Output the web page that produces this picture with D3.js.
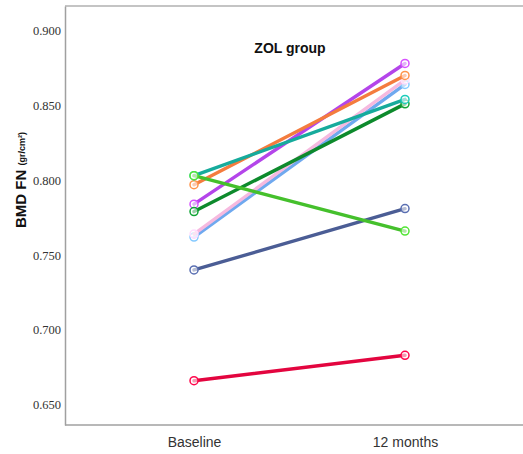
<!DOCTYPE html>
<html>
<head>
<meta charset="utf-8">
<script src="https://cdn.jsdelivr.net/npm/d3@7"></script>
<style>
  body { margin: 0; background: #fff; }
  .axis path, .axis line { stroke: #a0a0a0; }
  .axis--y text { font-family: "Liberation Serif", "DejaVu Serif", "Times New Roman", serif; font-size: 12.5px; }
</style>
</head>
<body>
<div id="svgcontainer"></div>
<script>
// data
var timepoints = ["Baseline", "12 months"];
var subjectColors = ["#e3053f", "#4b5d95", "#6fa9ef", "#f6b9df", "#b445ea", "#f47c3e", "#0d8a2c", "#16ab9c", "#45c02c"];
var baseline =      [0.666, 0.740, 0.762, 0.764, 0.784, 0.797, 0.779, 0.803, 0.803];
var months12 =      [0.683, 0.781, 0.864, 0.867, 0.878, 0.870, 0.851, 0.854, 0.766];
var yTicks = [0.650, 0.700, 0.750, 0.800, 0.850, 0.900];

var margin = {top: 6, right: 0, bottom: 29, left: 65},
    width = 523 - margin.left - margin.right,
    height = 454 - margin.top - margin.bottom,
    svg = d3.select("div#svgcontainer")
            .append("svg")
            .attr("width", 523)
            .attr("height", 454),
    g = svg.append("g")
           .attr("transform", "translate(" + margin.left + "," + margin.top + ")");

var x = d3.scalePoint()
    .domain(timepoints)
    .range([23.5, 445.5])
    .padding(0.5);

var y = d3.scaleLinear()
    .domain([0.6364, 0.9164])
    .range([height, 0]);

var line = d3.line()
    .x(function(d){ return x(d.t) })
    .y(function(d){ return y(d.v) });

var subjects = baseline.map(function(b, i){
  return {
    color: subjectColors[i],
    points: [{t: timepoints[0], v: b}, {t: timepoints[1], v: months12[i]}]
  };
});

// frame: left, top and bottom only
g.append("line").attr("x1", 0).attr("x2", width).attr("y1", 0).attr("y2", 0)
  .style("stroke", "#b0b0b0").style("stroke-width", 1.5);

g.append("g")
  .attr("class", "axis axis--y")
  .call(d3.axisLeft(y).tickValues(yTicks).tickFormat(d3.format(".3f")).tickSize(0).tickPadding(4))
  .call(function(a){ a.select(".domain").style("stroke-width", 1.5); })
  .selectAll("text")
    .style("fill", "#333");

g.append("g")
  .attr("class", "axis axis--x")
  .attr("transform", "translate(0," + height + ")")
  .call(d3.axisBottom(x).tickSize(0).tickPadding(12))
  .attr("font-family", "Arial, 'Liberation Sans', sans-serif")
  .attr("font-size", 14)
  .call(function(a){ a.select(".domain").attr("d", "M0,0H" + width).style("stroke-width", 1.5); })
  .selectAll("text")
    .style("fill", "#333");

var seq = g.selectAll(".seq")
  .data(subjects)
  .enter().append("g")
  .attr("class", "seq");

seq.append("path")
  .attr("d", function(s){ return line(s.points) })
  .style("fill", "none")
  .style("stroke", function(s){ return s.color })
  .style("stroke-width", 3.4)
  .style("stroke-linecap", "round");

seq.selectAll("circle")
  .data(function(s){ return s.points.map(function(p){ return {t: p.t, v: p.v, color: s.color} }) })
  .enter().append("circle")
  .attr("cx", function(d){ return x(d.t) })
  .attr("cy", function(d){ return y(d.v) })
  .attr("r", 4)
  .style("fill", "#fff")
  .style("fill-opacity", 0.6)
  .style("stroke", function(d){ return d3.color(d.color).brighter(0.5) })
  .style("stroke-width", 1.5);

g.append("text")
  .attr("x", 225)
  .attr("y", 47)
  .attr("text-anchor", "middle")
  .style("font-family", "Arial, 'Liberation Sans', sans-serif")
  .style("font-weight", "bold")
  .style("font-size", "14px")
  .style("fill", "#111")
  .text("ZOL group");

var ylab = svg.append("text")
  .attr("transform", "translate(26,180) rotate(-90)")
  .attr("text-anchor", "middle")
  .style("font-family", "Arial, 'Liberation Sans', sans-serif")
  .style("font-weight", "bold")
  .style("fill", "#111");
ylab.append("tspan").style("font-size", "15px").text("BMD FN ");
ylab.append("tspan").style("font-size", "9px").attr("dy", -1).text(" (gr/cm²)");
</script>
</body>
</html>
